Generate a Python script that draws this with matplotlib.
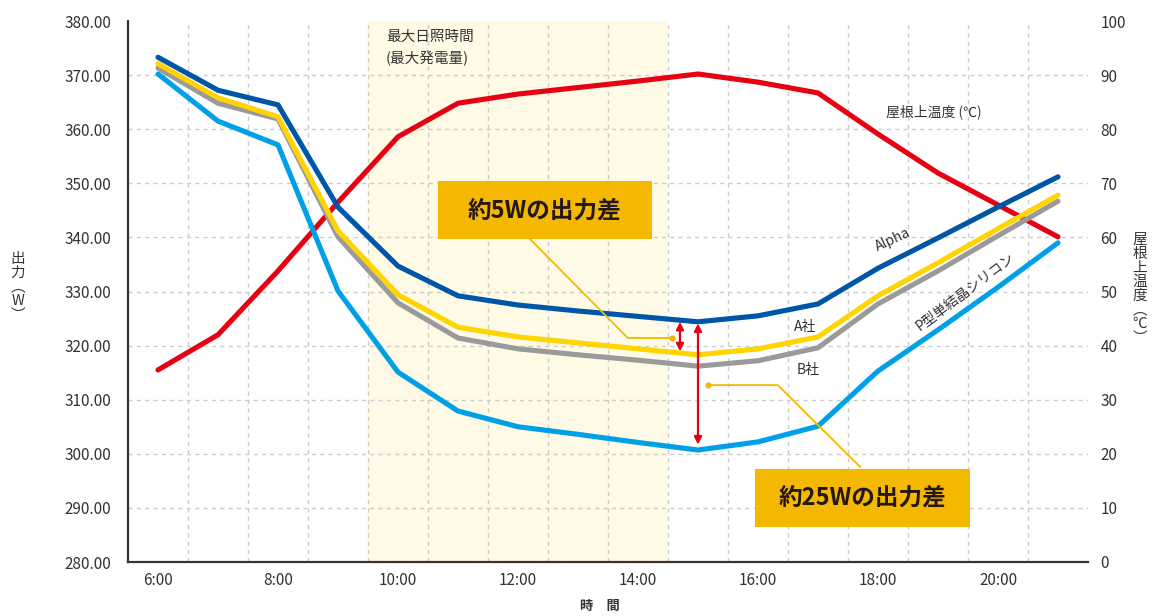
import numpy as np
import matplotlib
matplotlib.use("Agg")
import matplotlib.pyplot as plt
from matplotlib.patches import Rectangle

plt.rcParams['font.family'] = ['Noto Sans CJK JP', 'DejaVu Sans']

# ---- data ----
hours = [6, 7, 8, 9, 10, 11, 12, 13, 14, 15, 16, 17, 18, 19, 20, 21]
xtick_hours = [6, 8, 10, 12, 14, 16, 18, 20]
xtick_labels = ["6:00", "8:00", "10:00", "12:00", "14:00", "16:00", "18:00", "20:00"]
alpha = [373.3, 367.2, 364.5, 345.6, 334.7, 329.2, 327.5, 326.4, 325.4, 324.4,
         325.5, 327.7, 334.3, 339.9, 345.6, 351.2]
company_a = [372.1, 365.8, 362.3, 341.2, 329.4, 323.4, 321.6, 320.5, 319.4, 318.3,
             319.4, 321.6, 329.2, 335.3, 341.6, 347.8]
company_b = [371.3, 364.8, 361.9, 340.1, 327.9, 321.4, 319.4, 318.3, 317.3, 316.2,
             317.2, 319.6, 327.7, 333.8, 340.3, 346.7]
p_mono = [370.2, 361.5, 357.1, 330.1, 315.1, 307.9, 305.0, 303.6, 302.1, 300.7,
          302.2, 305.1, 315.3, 322.9, 330.8, 339.0]
roof_temp = [35.5, 42.0, 53.8, 66.5, 78.6, 84.8, 86.5, 87.7, 88.9, 90.2,
             88.7, 86.7, 79.1, 71.9, 66.0, 60.1]
power_ticks = [280, 290, 300, 310, 320, 330, 340, 350, 360, 370, 380]
temp_ticks = [0, 10, 20, 30, 40, 50, 60, 70, 80, 90, 100]

W, H = 1173, 616
fig = plt.figure(figsize=(W / 100, H / 100), dpi=100)
ax = fig.add_axes([128 / W, 1 - 562 / H, (1088 - 128) / W, (562 - 21) / H])
ax2 = ax.twinx()
ax.set_zorder(ax2.get_zorder() + 1)
ax.patch.set_visible(False)

ax.set_xlim(5.5, 21.5)
ax.set_ylim(280, 380)
ax2.set_ylim(0, 100)

# shaded max-sunshine region
ax2.axvspan(9.5, 14.5, color='#FEFAE6', zorder=0, lw=0)

# grid (on ax2, underneath)
grid_kw = dict(color='#cccccc', lw=1.0, ls=(0, (3, 3)), zorder=0.5)
for xv in np.arange(6.5, 21.0, 1.0):
    ax2.axvline(xv, **grid_kw)
for yv in temp_ticks[1:-1]:
    ax2.axhline(yv, **grid_kw)

# red temperature line
ax2.plot(hours, roof_temp, color='#E60012', lw=3.7, solid_capstyle='round', zorder=2)

# power lines
ax.plot(hours, p_mono, color='#00A0E9', lw=3.7, solid_capstyle='round', zorder=3)
ax.plot(hours, company_b, color='#9A9A9A', lw=3.7, solid_capstyle='round', zorder=3)
ax.plot(hours, company_a, color='#FFD400', lw=3.7, solid_capstyle='round', zorder=4)
ax.plot(hours, alpha, color='#0056A6', lw=3.7, solid_capstyle='round', zorder=5)

# axes styling
for s in ['top', 'right']:
    ax.spines[s].set_visible(False)
for s in ax2.spines.values():
    s.set_visible(False)
for s in ['left', 'bottom']:
    ax.spines[s].set_color('#3b3131')
    ax.spines[s].set_linewidth(1.6)
    ax.spines[s].set_zorder(6)

txt_col = '#333333'
ax.set_yticks(power_ticks)
ax.set_yticklabels([f"{v:.2f}" for v in power_ticks])
ax.set_xticks(xtick_hours)
ax.set_xticklabels(xtick_labels)
ax.tick_params(axis='y', length=0, pad=12, labelsize=11, labelcolor=txt_col)
ax.tick_params(axis='x', length=0, pad=7, labelsize=11, labelcolor=txt_col)
ax2.set_yticks(temp_ticks)
ax2.tick_params(axis='y', length=0, pad=9, labelsize=11, labelcolor=txt_col)

# axis labels (vertical Japanese)
fig.text(18 / W, 1 - 287 / H, "出\n力\n︵\nW\n︶", ha='center', va='center',
         fontsize=10.5, color=txt_col, linespacing=1.0)
fig.text(1140 / W, 1 - 289 / H, "屋\n根\n上\n温\n度\n︵\n℃\n︶", ha='center', va='center',
         fontsize=10.5, color=txt_col, linespacing=1.0)
fig.text(600 / W, 1 - 606 / H, "時　間", ha='center', va='center',
         fontsize=9.5, color=txt_col, fontweight='bold')

# region caption
ax.text(9.8, 375.0, "最大日照時間\n(最大発電量)", ha='left', va='center',
        fontsize=10.5, color=txt_col, linespacing=1.55)

# line labels
ax.text(18.93, 363.2, "屋根上温度 (℃)", ha='center', va='center', fontsize=10, color=txt_col)
ax.text(18.25, 339.6, "Alpha", ha='center', va='center', fontsize=10, color=txt_col, rotation=25)
ax.text(16.78, 323.4, "A社", ha='center', va='center', fontsize=10, color=txt_col)
ax.text(16.83, 315.5, "B社", ha='center', va='center', fontsize=10, color=txt_col)
ax.text(19.45, 330.0, "P型単結晶シリコン", ha='center', va='center', fontsize=10,
        color=txt_col, rotation=37)

# red double arrows
x1 = 14.7
ya1 = np.interp(x1, hours, alpha)
yb1 = np.interp(x1, hours, company_a)
ax.annotate("", xy=(x1, yb1 + 0.3), xytext=(x1, ya1 - 0.3),
            arrowprops=dict(arrowstyle='<|-|>', color='#E60012', lw=1.6,
                            mutation_scale=11, shrinkA=0, shrinkB=0), zorder=7)
x2 = 15.0
ya2 = np.interp(x2, hours, alpha)
yb2 = np.interp(x2, hours, p_mono)
ax.annotate("", xy=(x2, yb2 + 1.0), xytext=(x2, ya2 - 0.3),
            arrowprops=dict(arrowstyle='<|-|>', color='#E60012', lw=1.6,
                            mutation_scale=11, shrinkA=0, shrinkB=0), zorder=7)

# callout boxes and leader lines
gold = '#F5B800'
ax.plot([12.2, 13.83, 14.57], [339.7, 321.4, 321.4], color=gold, lw=1.3, zorder=6)
ax.plot([14.57], [321.4], 'o', color=gold, ms=3.5, zorder=6)
ax.plot([15.17, 16.33, 17.7], [312.7, 312.7, 297.6], color=gold, lw=1.3, zorder=6)
ax.plot([15.17], [312.7], 'o', color=gold, ms=3.5, zorder=6)

ax.add_patch(Rectangle((10.67, 339.7), 14.23 - 10.67, 350.4 - 339.7,
                       facecolor=gold, edgecolor='none', zorder=8))
ax.text((10.67 + 14.23) / 2, 345.05, "約5Wの出力差", ha='center', va='center',
        fontsize=17, fontweight='bold', color='#231815', zorder=9)
ax.add_patch(Rectangle((15.95, 286.5), 19.53 - 15.95, 297.2 - 286.5,
                       facecolor=gold, edgecolor='none', zorder=8))
ax.text((15.95 + 19.53) / 2, 291.85, "約25Wの出力差", ha='center', va='center',
        fontsize=17, fontweight='bold', color='#231815', zorder=9)

fig.savefig("out.png", dpi=100, facecolor='white')
